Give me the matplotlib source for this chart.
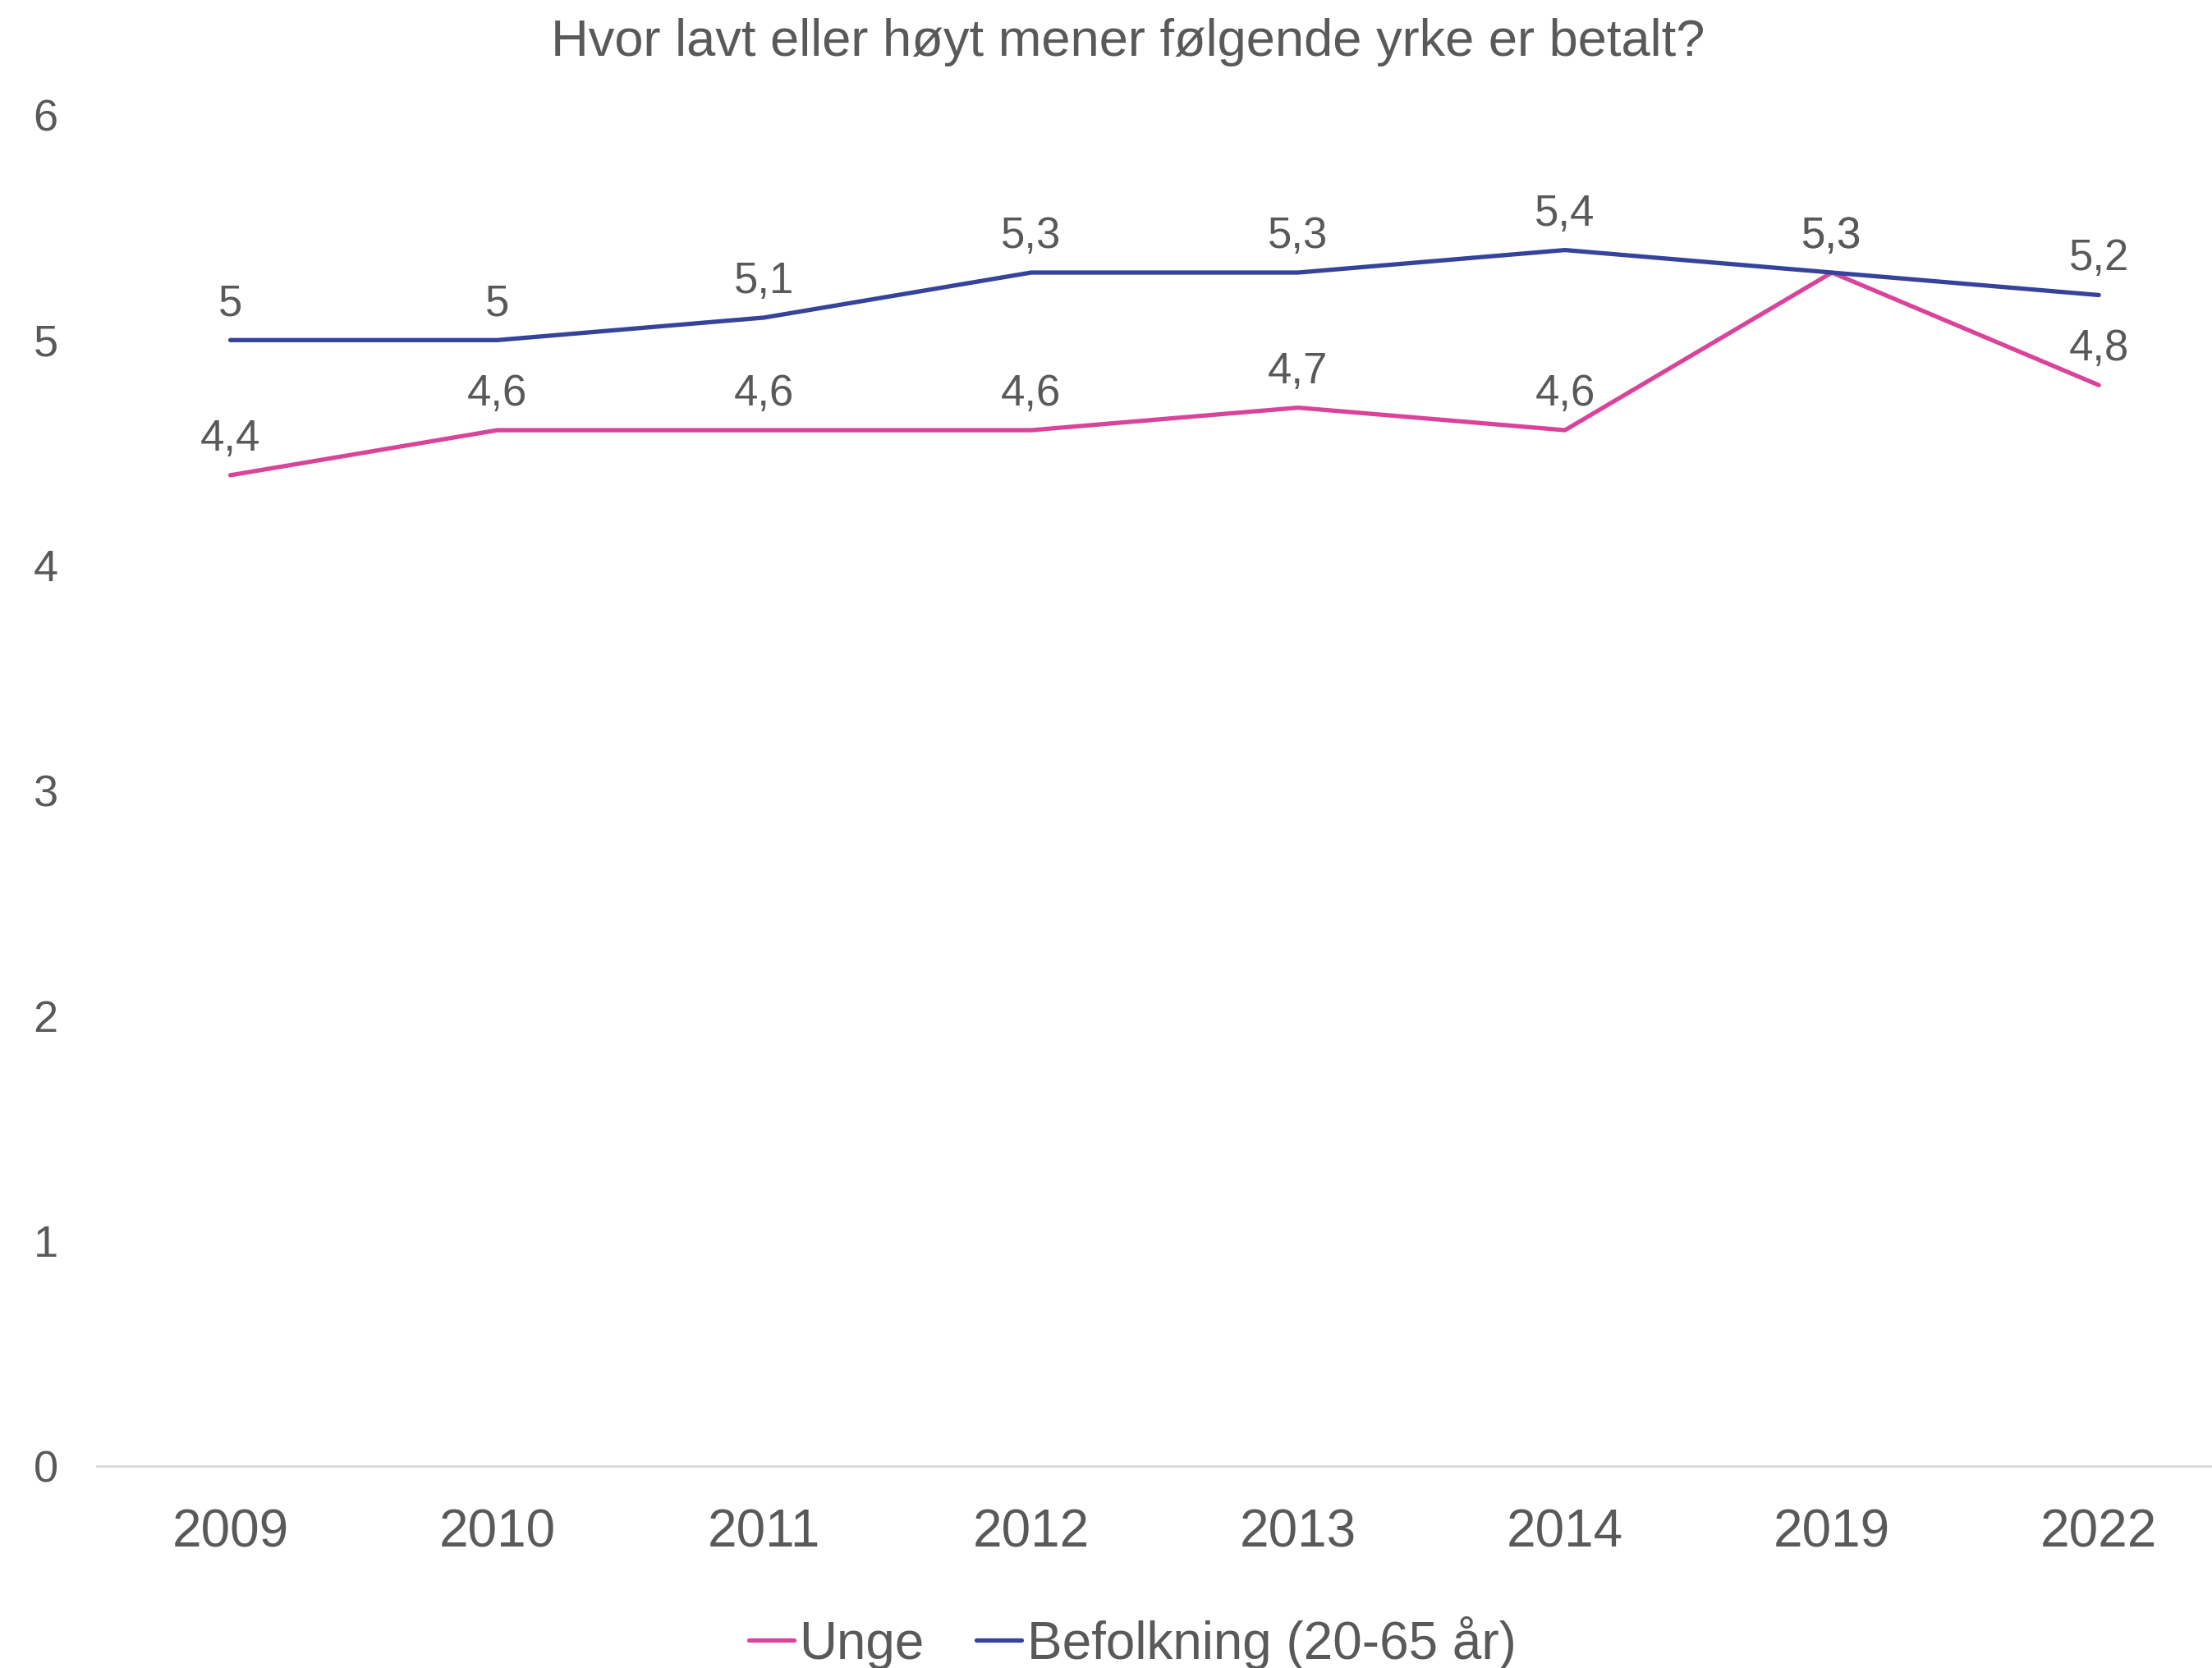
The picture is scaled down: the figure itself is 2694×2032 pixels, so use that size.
import matplotlib
matplotlib.use("Agg")
import matplotlib.pyplot as plt

plt.rcParams['font.family'] = ['Liberation Sans', 'DejaVu Sans']

# data
years = ["2009", "2010", "2011", "2012", "2013", "2014", "2019", "2022"]
unge = [4.4, 4.6, 4.6, 4.6, 4.7, 4.6, 5.3, 4.8]
befolkning = [5.0, 5.0, 5.1, 5.3, 5.3, 5.4, 5.3, 5.2]
series_names = ["Unge", "Befolkning (20-65 år)"]
title = "Hvor lavt eller høyt mener følgende yrke er betalt?"

PINK = "#D9449A"
BLUE = "#35449A"
TEXT = "#595959"

def fmt(v):
    s = f"{v:g}"
    return s.replace(".", ",")

fig = plt.figure(figsize=(26.94, 20.32), dpi=100, facecolor="white")
ax = fig.add_axes([0.0438, 0.1211, 0.9562, 0.81])

x = list(range(len(years)))
ax.plot(x, unge, color=PINK, lw=3.8, solid_capstyle='round', label=series_names[0])
ax.plot(x, befolkning, color=BLUE, lw=3.8, solid_capstyle='round', label=series_names[1])

# data labels above each point
for xi, v in zip(x, unge):
    ax.annotate(fmt(v), (xi, v), xytext=(0, 21.6), textcoords='offset points',
                ha='center', va='baseline', fontsize=38, color=TEXT)
for xi, v in zip(x, befolkning):
    ax.annotate(fmt(v), (xi, v), xytext=(0, 21.6), textcoords='offset points',
                ha='center', va='baseline', fontsize=38, color=TEXT)

ax.set_xlim(-0.5, 7.424)
ax.set_ylim(0, 6)
ax.set_xticks(x)
ax.set_xticklabels(years)
ax.set_yticks(range(0, 7))

for s in ['top', 'right', 'left']:
    ax.spines[s].set_visible(False)
ax.spines['bottom'].set_color('#D9D9D9')
ax.spines['bottom'].set_linewidth(2)

ax.tick_params(axis='x', length=0, pad=37, labelsize=46, colors=TEXT)
ax.tick_params(axis='y', length=0, pad=34, labelsize=39, colors=TEXT)

fig.text(0.510, 0.9665, title, ha='center', va='baseline', fontsize=45.5, color=TEXT)

fig.legend(loc='center', bbox_to_anchor=(1379 / 2694, 31 / 2032), ncol=2,
           frameon=False, fontsize=46, handlelength=0.86, handletextpad=0.1,
           columnspacing=1.0, labelcolor=TEXT)

fig.savefig("out.png", dpi=100, facecolor="white")
